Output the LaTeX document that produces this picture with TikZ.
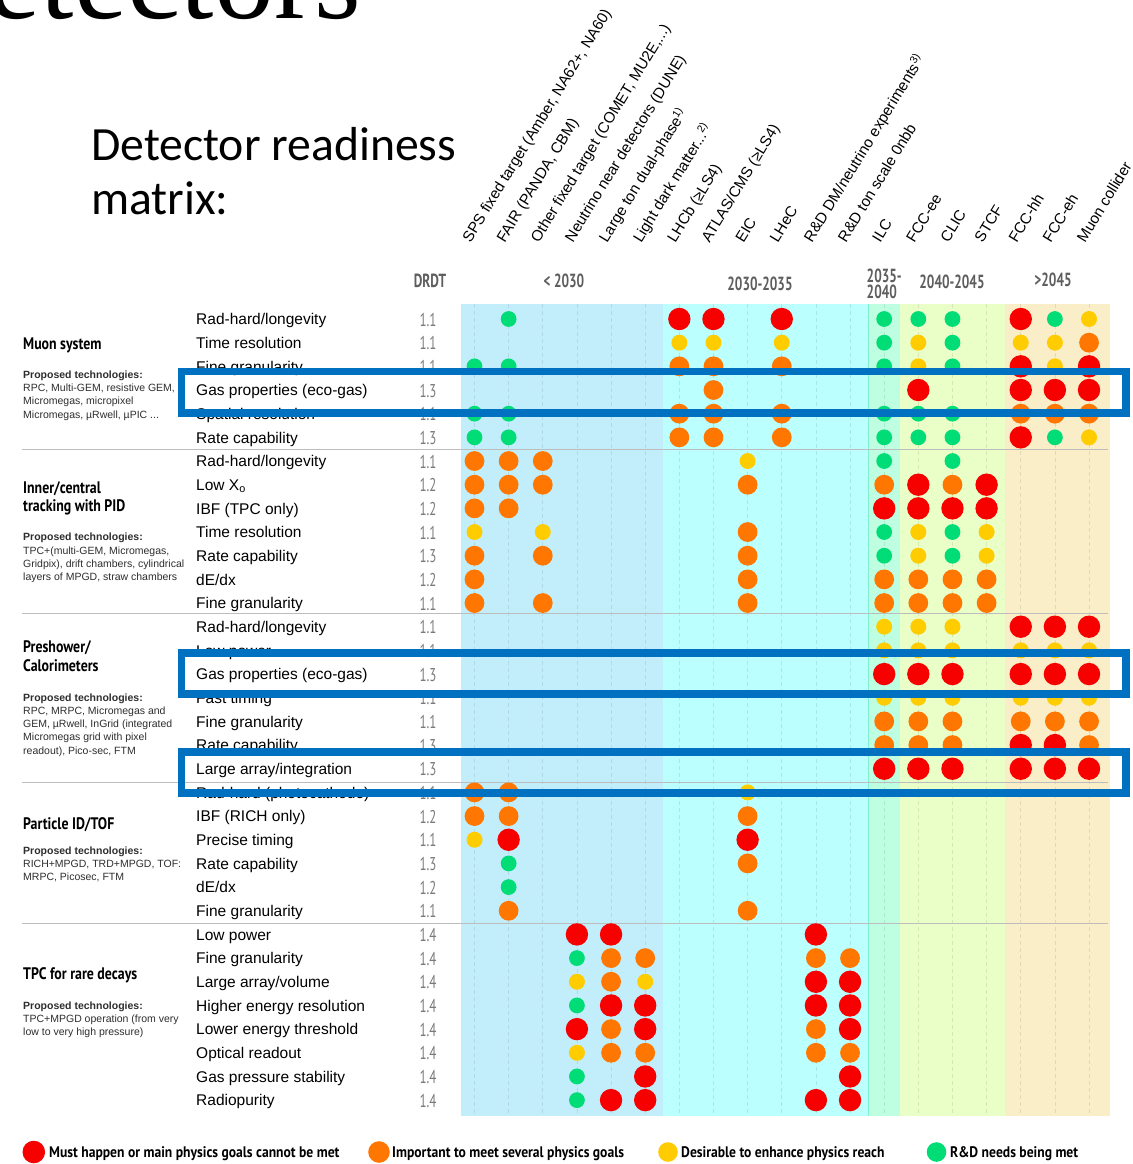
\documentclass[tikz,border=0pt]{standalone}
\usepackage{fontspec}
\setmainfont{Liberation Sans}
\newfontfamily\cnd[FakeStretch=0.83]{PT Sans}
\newfontfamily\cndl[FakeStretch=0.89]{PT Sans}
\newfontfamily\cndn[FakeStretch=0.7]{PT Sans}
\newfontfamily\ttl{Carlito}
\newfontfamily\srf{Liberation Serif}

\definecolor{bandA}{HTML}{C2EEFC}
\definecolor{bandB}{HTML}{BBFFFF}
\definecolor{bandC}{HTML}{BEFFE2}
\definecolor{bandD}{HTML}{EAFEC8}
\definecolor{bandE}{HTML}{F9EEC8}
\definecolor{mintline}{HTML}{80F0D0}
\definecolor{sepgray}{HTML}{BDBDBD}
\definecolor{hlblue}{HTML}{0070C0}
\definecolor{cRed}{HTML}{F60000}
\definecolor{cOrange}{HTML}{FF7700}
\definecolor{cYellow}{HTML}{FFCC00}
\definecolor{cGreen}{HTML}{00DD77}
\definecolor{numgray}{HTML}{7A7A7A}
\definecolor{pergray}{HTML}{5E5E5E}
\definecolor{techgray}{HTML}{2E2E2E}

\tikzset{
  dotR/.style={fill=cRed,radius=11.2},
  dotO/.style={fill=cOrange,radius=9.9},
  dotY/.style={fill=cYellow,radius=8.0},
  dotG/.style={fill=cGreen,radius=7.9},
  rowlab/.style={anchor=base west,inner sep=0pt,font=\fontsize{15.5}{18}\selectfont},
  drdtnum/.style={anchor=base,inner sep=0pt,text=numgray,font=\cndn\fontsize{18.5}{20}\selectfont},
  colhead/.style={anchor=base west,rotate=58.5,inner sep=0pt,font=\fontsize{15.2}{17}\selectfont},
  period/.style={inner sep=0pt,text=pergray,font=\cndn\bfseries\fontsize{19}{20}\selectfont},
  seclab/.style={anchor=base west,inner sep=0pt,font=\cnd\bfseries\fontsize{16.7}{18}\selectfont},
  techhead/.style={anchor=base west,inner sep=0pt,text=techgray,font=\bfseries\fontsize{10.5}{12}\selectfont},
  techline/.style={anchor=base west,inner sep=0pt,text=techgray,font=\fontsize{10.5}{12}\selectfont},
  legtext/.style={anchor=base west,inner sep=0pt,font=\cndl\bfseries\fontsize{15.3}{17}\selectfont},
  sepline/.style={draw=sepgray,line width=1.5pt},
  colline/.style={draw=black,opacity=0.09,line width=0.7pt,dash pattern=on 4pt off 3pt},
  hlbox/.style={draw=hlblue,line width=7.5pt},
}

\begin{document}
\begin{tikzpicture}[x=1pt,y=-1pt]
\useasboundingbox (0,0) rectangle (1132,1164);
\clip (0,0) rectangle (1132,1164);
\fill[white] (0,0) rectangle (1132,1164);

% slide title running off the top edge
\node[anchor=base east,inner sep=0pt,font=\srf\fontsize{120}{120}\selectfont] (slidetitle) at (361,19) {Detectors};

% heading of the matrix
\node[anchor=base west,inner sep=0pt,font=\ttl\fontsize{47.7}{50}\selectfont] (title1) at (91,160.5) {Detector readiness};
\node[anchor=base west,inner sep=0pt,font=\ttl\fontsize{47.7}{50}\selectfont] (title2) at (91,214.5) {matrix:};

% time-period bands
\fill[bandA] (461,304) rectangle (663,1116);
\fill[bandB] (663,304) rectangle (868,1116);
\fill[bandC] (868,304) rectangle (900,1116);
\fill[bandD] (900,304) rectangle (1005,1116);
\fill[bandE] (1005,304) rectangle (1110,1116);
\draw[mintline,line width=1pt] (868,304) -- (868,1116);

% faint column guides
\foreach \c in {1,...,19}
  \draw[colline] ({474.5+(\c-1)*34.14},304) -- ({474.5+(\c-1)*34.14},1116);

% section separators
\foreach \y in {449.5,613.5,782.5,923.5}
  \draw[sepline] (22,\y) -- (1108,\y);

% period labels
\node[period,anchor=base] (pdrdt) at (430,287) {DRDT};
\node[period,anchor=base] (p1) at (564,287) {< 2030};
\node[period,anchor=base] (p2) at (760,290) {2030-2035};
\node[period,anchor=base west] (p3a) at (866.5,282) {2035-};
\node[period,anchor=base west] (p3b) at (866.5,298) {2040};
\node[period,anchor=base] (p4) at (952,288.3) {2040-2045};
\node[period,anchor=base] (p5) at (1053,286.7) {>2045};

% column headers
\foreach \c/\t in {
  1/{SPS fixed target (Amber, NA62+, NA60)},
  2/{FAIR (PANDA, CBM)},
  3/{Other fixed target (COMET, MU2E,...)},
  4/{Neutrino near detectors (DUNE)},
  5/{Large ton dual-phase\textsuperscript{1)}},
  6/{Light dark matter...\textsuperscript{2)}},
  7/{LHCb (≥LS4)},
  8/{ATLAS/CMS (≥LS4)},
  9/{EIC},
  10/{LHeC},
  11/{R\&D DM/neutrino experiments\textsuperscript{3)}},
  12/{R\&D ton scale 0nbb},
  13/{ILC},
  14/{FCC-ee},
  15/{CLIC},
  16/{STCF},
  17/{FCC-hh},
  18/{FCC-eh},
  19/{Muon collider}}
  \node[colhead] (head\c) at ({474.5+(\c-1)*34.14-4},243.5) {\t};

% requirement rows with their DRDT numbers
\foreach \r/\t/\d in {
  1/{Rad-hard/longevity}/1.1,
  2/{Time resolution}/1.1,
  3/{Fine granularity}/1.1,
  4/{Gas properties (eco-gas)}/1.3,
  5/{Spatial resolution}/1.1,
  6/{Rate capability}/1.3,
  7/{Rad-hard/longevity}/1.1,
  8/{Low X\textsubscript{o}}/1.2,
  9/{IBF (TPC only)}/1.2,
  10/{Time resolution}/1.1,
  11/{Rate capability}/1.3,
  12/{dE/dx}/1.2,
  13/{Fine granularity}/1.1,
  14/{Rad-hard/longevity}/1.1,
  15/{Low power}/1.1,
  16/{Gas properties (eco-gas)}/1.3,
  17/{Fast timing}/1.1,
  18/{Fine granularity}/1.1,
  19/{Rate capability}/1.3,
  20/{Large array/integration}/1.3,
  21/{Rad-hard (photocathode)}/1.1,
  22/{IBF (RICH only)}/1.2,
  23/{Precise timing}/1.1,
  24/{Rate capability}/1.3,
  25/{dE/dx}/1.2,
  26/{Fine granularity}/1.1,
  27/{Low power}/1.4,
  28/{Fine granularity}/1.4,
  29/{Large array/volume}/1.4,
  30/{Higher energy resolution}/1.4,
  31/{Lower energy threshold}/1.4,
  32/{Optical readout}/1.4,
  33/{Gas pressure stability}/1.4,
  34/{Radiopurity}/1.4}
{
  \node[rowlab] (lab\r) at (196,{319+(\r-1)*23.67+5.7}) {\t};
  \node[drdtnum] (num\r) at (428,{319+(\r-1)*23.67+7}) {\d};
}

% readiness dots: row / list of column/level
\foreach \r/\lst in {
  1/{2/G,7/R,8/R,10/R,13/G,14/G,15/G,17/R,18/G,19/Y},
  2/{7/Y,8/Y,10/Y,13/G,14/Y,15/G,17/Y,18/Y,19/O},
  3/{1/G,2/G,7/O,8/O,10/O,13/G,14/Y,15/G,17/R,18/Y,19/R},
  4/{8/O,14/R,17/R,18/R,19/R},
  5/{1/G,2/G,7/O,8/O,10/O,13/G,14/G,15/G,17/O,18/O,19/O},
  6/{1/G,2/G,7/O,8/O,10/O,13/G,14/G,15/G,17/R,18/G,19/Y},
  7/{1/O,2/O,3/O,9/Y,13/G,15/G},
  8/{1/O,2/O,3/O,9/O,13/O,14/R,15/O,16/R},
  9/{1/O,2/O,13/R,14/R,15/R,16/R},
  10/{1/Y,3/Y,9/O,13/G,14/Y,15/G,16/Y},
  11/{1/O,3/O,9/O,13/G,14/Y,15/G,16/Y},
  12/{1/O,9/O,13/O,14/O,15/O,16/O},
  13/{1/O,3/O,9/O,13/O,14/O,15/O,16/O},
  14/{13/Y,14/Y,15/Y,17/R,18/R,19/R},
  15/{13/Y,14/Y,15/Y,17/Y,18/Y,19/Y},
  16/{13/R,14/R,15/R,17/R,18/R,19/R},
  17/{13/Y,14/Y,15/Y,17/Y,18/Y,19/Y},
  18/{13/O,14/O,15/O,17/O,18/O,19/O},
  19/{13/O,14/O,15/O,17/R,18/R,19/O},
  20/{13/R,14/R,15/R,17/R,18/R,19/R},
  21/{1/O,2/O,9/Y},
  22/{1/O,2/O,9/O},
  23/{1/Y,2/R,9/R},
  24/{2/G,9/O},
  25/{2/G},
  26/{2/O,9/O},
  27/{4/R,5/R,11/R},
  28/{4/G,5/O,6/O,11/O,12/O},
  29/{4/Y,5/O,6/Y,11/R,12/R},
  30/{4/G,5/R,6/R,11/R,12/R},
  31/{4/R,5/O,6/R,11/O,12/R},
  32/{4/Y,5/O,6/O,11/O,12/O},
  33/{4/G,6/R,12/R},
  34/{4/G,5/R,6/R,11/R,12/R}}
{
  \foreach \c/\k in \lst
    \fill[dot\k] ({474.5+(\c-1)*34.14},{319+(\r-1)*23.67}) circle;
}

% section names and proposed technologies
\node[seclab] (muon) at (23,349) {Muon system};
\node[techhead] (muonT) at (23,378) {Proposed technologies:};
\node[techline] (muon1) at (23,391.5) {RPC, Multi-GEM, resistive GEM,};
\node[techline] (muon2) at (23,404.8) {Micromegas, micropixel};
\node[techline] (muon3) at (23,418) {Micromegas, µRwell, µPIC ...};

\node[seclab] (inner1) at (23,493) {Inner/central};
\node[seclab] (inner2) at (23,511.5) {tracking with PID};
\node[techhead] (innerT) at (23,540.5) {Proposed technologies:};
\node[techline] (innerA) at (23,554) {TPC+(multi-GEM, Micromegas,};
\node[techline] (innerB) at (23,567) {Gridpix), drift chambers, cylindrical};
\node[techline] (innerC) at (23,580) {layers of MPGD, straw chambers};

\node[seclab] (calo1) at (23,652.5) {Preshower/};
\node[seclab] (calo2) at (23,671.5) {Calorimeters};
\node[techhead] (caloT) at (23,701.5) {Proposed technologies:};
\node[techline] (caloA) at (23,714.5) {RPC, MRPC, Micromegas and};
\node[techline] (caloB) at (23,727.5) {GEM, µRwell, InGrid (integrated};
\node[techline] (caloC) at (23,740.8) {Micromegas grid with pixel};
\node[techline] (caloD) at (23,754) {readout), Pico-sec, FTM};

\node[seclab] (pid) at (23,829) {Particle ID/TOF};
\node[techhead] (pidT) at (23,854) {Proposed technologies:};
\node[techline] (pidA) at (23,867.5) {RICH+MPGD, TRD+MPGD, TOF:};
\node[techline] (pidB) at (23,880.5) {MRPC, Picosec, FTM};

\node[seclab] (tpc) at (23,979) {TPC for rare decays};
\node[techhead] (tpcT) at (23,1009.5) {Proposed technologies:};
\node[techline] (tpcA) at (23,1022.5) {TPC+MPGD operation (from very};
\node[techline] (tpcB) at (23,1035.5) {low to very high pressure)};

% highlighted rows
\draw[hlbox] (181.5,371.5) rectangle (1126,413);
\draw[hlbox] (181.5,653) rectangle (1126,694);
\draw[hlbox] (181.5,752) rectangle (1126,793);

% legend
\fill[dotR,radius=11.3] (33.8,1152) circle;
\node[legtext] (legR) at (49,1157) {Must happen or main physics goals cannot be met};
\fill[dotO,radius=10.8] (379,1152) circle;
\node[legtext] (legO) at (392,1157) {Important to meet several physics goals};
\fill[dotY,radius=9.8] (668,1152) circle;
\node[legtext] (legY) at (681,1157) {Desirable to enhance physics reach};
\fill[dotG,radius=9.8] (936.5,1152) circle;
\node[legtext] (legG) at (950,1157) {R\&D needs being met};
\end{tikzpicture}
\end{document}
